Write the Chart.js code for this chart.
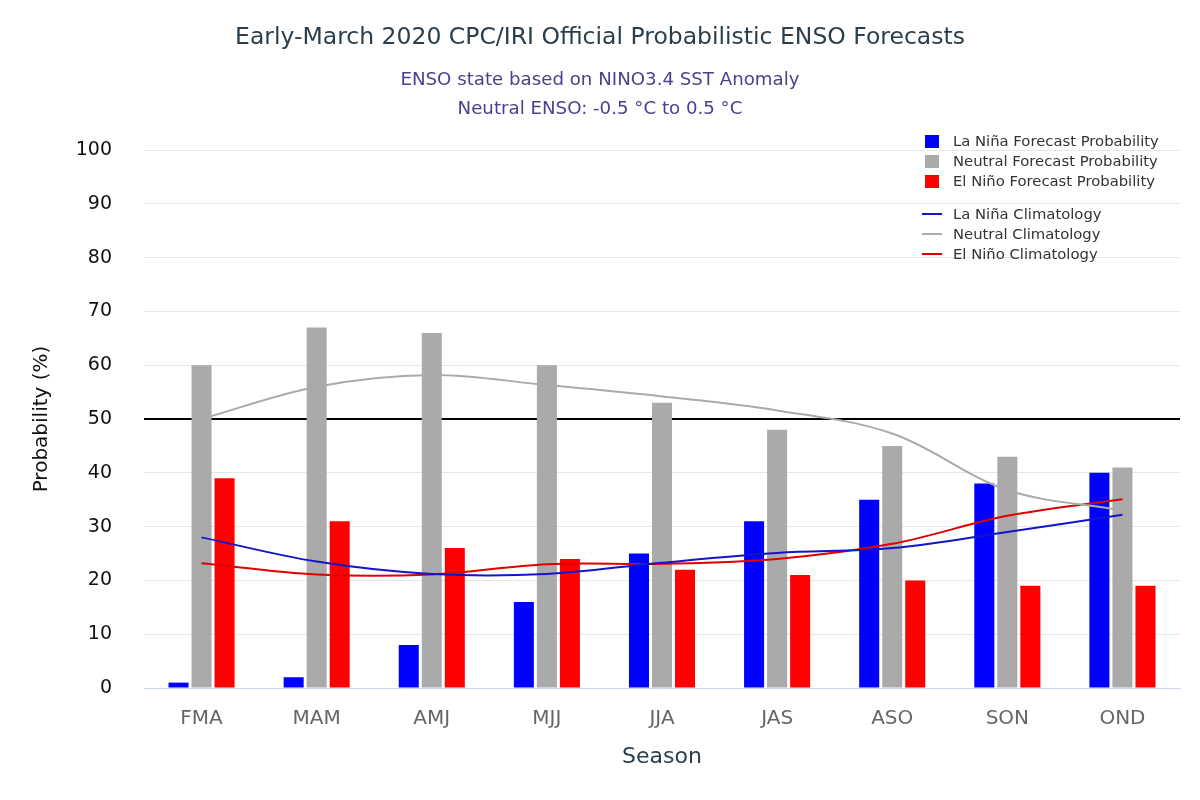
<!DOCTYPE html>
<html>
<head>
<meta charset="utf-8">
<script src="https://cdn.jsdelivr.net/npm/chart.js@4.4.1/dist/chart.umd.min.js"></script>
<style>
  html, body { margin: 0; padding: 0; background: #fff; }
  #wrap { position: relative; width: 1200px; height: 800px; font-family: "DejaVu Sans", sans-serif; }
  canvas { position: absolute; left: 0; top: 0; }
  .title { position: absolute; left: 0; width: 1200px; text-align: center; white-space: nowrap; }
  #t1 { top: 21px; font-size: 23.5px; color: #2c3e4c; line-height: 30px; }
  #t2 { top: 64px; font-size: 18.2px; color: #4b3f8e; line-height: 29px; }
  #legend { position: absolute; left: 918px; top: 131px; font-size: 14.8px; color: #333; }
  .li { position: relative; height: 20px; line-height: 20px; padding-left: 35px; white-space: nowrap; }
  .sq { position: absolute; left: 7px; top: 4px; width: 14px; height: 13px; }
  .ln { position: absolute; left: 4px; top: 9px; width: 20px; height: 2px; }
  .gap { height: 13px; }
</style>
</head>
<body>
<div id="wrap">
  <canvas id="c" width="1200" height="800"></canvas>
  <div class="title" id="t1">Early-March 2020 CPC/IRI Official Probabilistic ENSO Forecasts</div>
  <div class="title" id="t2">ENSO state based on NINO3.4 SST Anomaly<br>Neutral ENSO: -0.5 °C to 0.5 °C</div>
  <div id="legend"></div>
</div>
<script>
const seasons = ["FMA", "MAM", "AMJ", "MJJ", "JJA", "JAS", "ASO", "SON", "OND"];
const laNinaProb  = [1, 2, 8, 16, 25, 31, 35, 38, 40];
const neutralProb = [60, 67, 66, 60, 53, 48, 45, 43, 41];
const elNinoProb  = [39, 31, 26, 24, 22, 21, 20, 19, 19];
const laNinaClim  = [28, 23.5, 21.2, 21.2, 23.3, 25.1, 26, 29, 32.2];
const neutralClim = [50, 56, 58.2, 56.3, 54.2, 51.6, 47.3, 36.8, 33];
const elNinoClim  = [23.2, 21.1, 21.1, 23, 23.1, 24, 26.8, 32, 35.1];
const yTicks = [0, 10, 20, 30, 40, 50, 60, 70, 80, 90, 100];
const thresholdValue = 50;

const datasets = [
  { type: 'bar', label: 'La Niña Forecast Probability', data: laNinaProb, backgroundColor: '#0000ff', order: 2 },
  { type: 'bar', label: 'Neutral Forecast Probability', data: neutralProb, backgroundColor: '#aaaaaa', order: 2 },
  { type: 'bar', label: 'El Niño Forecast Probability', data: elNinoProb, backgroundColor: '#ff0000', order: 2 },
  { type: 'line', label: 'La Niña Climatology', data: laNinaClim, borderColor: '#1414c8', borderWidth: 2, pointRadius: 0, tension: 0.35, fill: false, order: 1 },
  { type: 'line', label: 'Neutral Climatology', data: neutralClim, borderColor: '#aaaaaa', borderWidth: 2, pointRadius: 0, tension: 0.35, fill: false, order: 1 },
  { type: 'line', label: 'El Niño Climatology', data: elNinoClim, borderColor: '#e00000', borderWidth: 2, pointRadius: 0, tension: 0.35, fill: false, order: 1 }
];

const thresholdLine = {
  id: 'thresholdLine',
  beforeDatasetsDraw(chart) {
    const y = chart.scales.y.getPixelForValue(thresholdValue);
    const a = chart.chartArea;
    const ctx = chart.ctx;
    ctx.save();
    ctx.strokeStyle = '#000';
    ctx.lineWidth = 2;
    ctx.beginPath();
    ctx.moveTo(a.left, y);
    ctx.lineTo(a.right, y);
    ctx.stroke();
    ctx.restore();
  }
};

const chart = new Chart(document.getElementById('c'), {
  type: 'bar',
  data: { labels: seasons, datasets },
  options: {
    responsive: false,
    animation: false,
    devicePixelRatio: 1,
    layout: { padding: { top: 150, right: 20, bottom: 0, left: 0 } },
    datasets: { bar: { categoryPercentage: 0.6, barPercentage: 0.87 } },
    plugins: { legend: { display: false }, tooltip: { enabled: false }, title: { display: false } },
    scales: {
      x: {
        offset: true,
        grid: { display: false, drawTicks: false },
        border: { display: true, color: '#ccd6eb', width: 1 },
        ticks: { color: '#666', font: { family: 'DejaVu Sans', size: 20 }, padding: 19, maxRotation: 0 },
        title: { display: true, text: 'Season', color: '#2c3e4c', font: { family: 'DejaVu Sans', size: 22 }, padding: { top: 0, bottom: 30 } },
        afterFit(scale) { scale.height = 112; }
      },
      y: {
        min: 0, max: 100,
        afterBuildTicks(scale) { scale.ticks = yTicks.map(v => ({ value: v })); },
        grid: { color: ctx => ctx.tick && ctx.tick.value === 0 ? 'rgba(0,0,0,0)' : '#e6e6e6', lineWidth: 1, drawTicks: false },
        border: { display: false },
        ticks: { color: '#111', font: { family: 'DejaVu Sans', size: 19 }, padding: 32 },
        title: { display: true, text: 'Probability (%)', color: '#111', font: { family: 'DejaVu Sans', size: 20 }, padding: { top: 30, bottom: 0 } },
        afterFit(scale) { scale.width = 144; }
      }
    }
  },
  plugins: [thresholdLine]
});

// HTML legend built from the datasets
const leg = document.getElementById('legend');
datasets.forEach((d, i) => {
  if (i === 3) { const g = document.createElement('div'); g.className = 'gap'; leg.appendChild(g); }
  const row = document.createElement('div');
  row.className = 'li';
  const sym = document.createElement('span');
  if (d.type === 'bar') { sym.className = 'sq'; sym.style.background = d.backgroundColor; }
  else { sym.className = 'ln'; sym.style.background = d.borderColor; }
  row.appendChild(sym);
  row.appendChild(document.createTextNode(d.label));
  leg.appendChild(row);
});
</script>
</body>
</html>
